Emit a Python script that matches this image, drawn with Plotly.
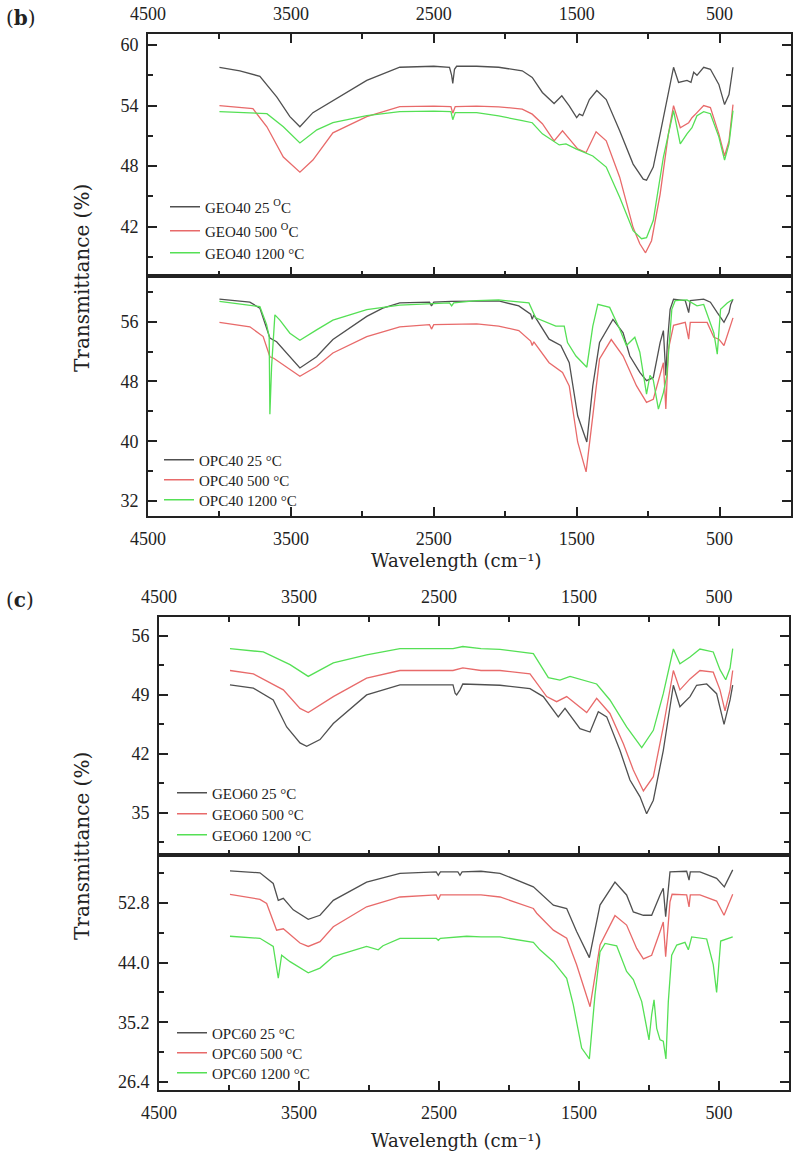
import plotly.graph_objects as go

# ---------------- data: wavenumber (cm-1) and transmittance (%) ----------------
# Panel (b) top: GEO40
geo40_25_wn = [4000, 3857, 3717, 3598, 3507, 3437, 3346, 3206, 2969, 2738, 2500, 2390, 2375, 2367, 2355, 2340, 2200,
               2046, 1881, 1811, 1740, 1658, 1604, 1552, 1500, 1481, 1458, 1411, 1359, 1293, 1199, 1105, 1034, 1011,
               964, 916, 858, 822, 787, 728, 700, 693, 681, 658, 611, 564, 505, 465, 434, 406]
geo40_25_t = [57.8, 57.45, 56.9, 54.85, 52.9, 51.9, 53.3, 54.5, 56.5, 57.8, 57.9, 57.8, 57.0, 56.2, 57.6, 57.9, 57.9,
              57.8, 57.45, 56.8, 55.3, 54.2, 54.97, 53.98, 52.8, 53.15, 53.0, 54.6, 55.5, 54.6, 51.5, 48.2, 46.7, 46.6,
              47.9, 51.2, 55.1, 57.8, 56.3, 56.5, 56.3, 56.8, 57.3, 57.0, 57.8, 57.6, 56.1, 54.1, 55.1, 57.8]
geo40_500_wn = [4000, 3766, 3668, 3553, 3437, 3346, 3206, 2969, 2738, 2500, 2380, 2367, 2350, 2200,
                2046, 1881, 1811, 1740, 1658, 1599, 1540, 1493, 1434, 1406, 1364, 1293, 1199, 1105, 1058, 1018,
                976, 916, 858, 822, 775, 716, 693, 658, 611, 564, 505, 465, 434, 406]
geo40_500_t = [54.0, 53.7, 51.9, 48.9, 47.4, 48.6, 51.3, 52.9, 53.9, 53.95, 53.9, 53.25, 53.9, 53.95,
               53.88, 53.65, 53.15, 52.2, 50.5, 51.5, 50.5, 49.7, 49.35, 50.2, 51.4, 50.5, 46.9, 41.9, 40.3, 39.4,
               40.6, 45.2, 51.2, 54.0, 51.8, 52.3, 52.8, 53.3, 54.0, 53.8, 51.2, 49.0, 50.5, 54.1]
geo40_1200_wn = [4000, 3668, 3553, 3437, 3318, 3206, 2969, 2738, 2500, 2380, 2367, 2350, 2200,
                 2046, 1881, 1811, 1740, 1669, 1622, 1575, 1505, 1387, 1293, 1199, 1105, 1046, 1011, 964, 893,
                 822, 775, 728, 693, 658, 611, 564, 505, 465, 434, 406]
geo40_1200_t = [53.4, 53.2, 51.9, 50.3, 51.6, 52.3, 53.0, 53.4, 53.45, 53.4, 52.6, 53.3, 53.3,
                52.98, 52.5, 52.3, 51.2, 50.5, 50.1, 50.2, 49.7, 49.0, 47.9, 44.9, 41.6, 40.8, 40.9, 42.6, 48.9,
                53.5, 50.2, 51.2, 51.8, 53.0, 53.4, 53.2, 50.9, 48.6, 50.2, 53.5]

# Panel (b) bottom: OPC40
opc40_25_wn = [4000, 3787, 3717, 3670, 3647, 3600, 3507, 3437, 3320, 3206, 2969, 2857, 2738, 2530, 2516, 2500,
               2380, 2200, 2046, 1905, 1822, 1811, 1800, 1693, 1611, 1552, 1493, 1429, 1387, 1340, 1246, 1175,
               1128, 1058, 1011, 964, 916, 893, 876, 865, 846, 822, 740, 716, 705, 611, 564, 516, 469, 434, 422, 406]
opc40_25_t = [59.0, 58.6, 57.8, 55.3, 53.8, 53.3, 51.3, 49.8, 51.3, 53.6, 56.7, 57.8, 58.5, 58.6, 58.1, 58.6,
              58.7, 58.75, 58.76, 58.1, 57.0, 56.3, 56.9, 53.65, 52.8, 50.5, 43.4, 39.9, 47.4, 53.2, 56.3, 54.5,
              51.4, 49.2, 48.1, 48.5, 53.2, 54.8, 48.8, 53.2, 57.65, 59.0, 58.8, 57.2, 58.8, 59.0, 58.6, 57.2, 55.9,
              57.2, 58.3, 59.0]
opc40_500_wn = [4000, 3787, 3694, 3647, 3620, 3507, 3437, 3320, 3206, 2969, 2738, 2530, 2516, 2500, 2200,
                2046, 1905, 1822, 1811, 1800, 1693, 1599, 1552, 1493, 1434, 1387, 1340, 1258, 1175, 1081, 1011,
                964, 916, 893, 876, 858, 822, 740, 716, 705, 587, 540, 505, 469, 406]
opc40_500_t = [55.9, 55.3, 54.0, 51.3, 51.1, 49.6, 48.7, 50.0, 51.8, 54.0, 55.3, 55.6, 55.0, 55.6, 55.7,
               55.4, 54.8, 53.4, 52.8, 53.3, 50.5, 49.2, 47.4, 39.9, 35.9, 43.4, 51.0, 53.6, 51.4, 47.4, 45.2,
               45.6, 48.8, 50.5, 44.3, 52.3, 55.5, 55.9, 53.65, 55.9, 55.9, 53.9, 53.65, 52.8, 56.5]
opc40_1200_wn = [4000, 3717, 3670, 3652, 3647, 3635, 3612, 3577, 3507, 3437, 3320, 3206, 2969, 2738, 2390,
                 2375, 2360, 2200, 2046, 1834, 1787, 1646, 1587, 1564, 1505, 1429, 1387, 1352, 1269, 1199,
                 1152, 1093, 1058, 1011, 987, 964, 928, 893, 869, 834, 811, 728, 658, 611, 540, 516, 493, 446, 406]
opc40_1200_t = [58.7, 58.0, 55.6, 54.0, 43.6, 50.0, 56.9, 56.2, 54.45, 53.5, 54.9, 56.2, 57.6, 58.2, 58.5,
                58.1, 58.5, 58.8, 58.9, 58.5, 56.5, 55.4, 55.4, 53.2, 51.4, 49.9, 55.4, 58.3, 57.9, 55.0,
                52.8, 53.9, 51.9, 46.3, 48.8, 48.2, 44.3, 46.5, 48.8, 57.65, 58.8, 58.9, 58.1, 58.3, 54.5,
                51.65, 57.65, 58.5, 59.0]

# Panel (c) top: GEO60
geo60_25_wn = [3993, 3826, 3684, 3588, 3493, 3445, 3350, 3255, 3017, 2779, 2400, 2385, 2374, 2350, 2330, 2200,
               2064, 1850, 1755, 1648, 1600, 1493, 1421, 1362, 1302, 1207, 1136, 1064, 1017, 969, 898, 826, 779,
               707, 660, 588, 517, 464, 421, 402]
geo60_25_t = [50.19, 49.8, 48.4, 45.2, 43.3, 42.9, 43.7, 45.6, 49.0, 50.2, 50.2, 49.2, 49.0, 49.6, 50.3, 50.2,
              50.15, 49.75, 48.8, 46.4, 47.4, 45.0, 44.6, 47.0, 46.4, 42.4, 38.9, 36.9, 34.9, 36.5, 42.4, 50.15,
              47.6, 48.8, 50.15, 50.3, 49.15, 45.5, 48.4, 50.15]
geo60_500_wn = [3993, 3826, 3612, 3493, 3434, 3255, 3017, 2779, 2400, 2330, 2200,
                2064, 1850, 1731, 1660, 1588, 1445, 1374, 1279, 1183, 1112, 1040, 969, 898, 826, 779, 707, 636,
                541, 493, 457, 421, 402]
geo60_500_t = [51.9, 51.5, 49.6, 47.4, 46.9, 48.8, 51.0, 51.9, 51.9, 52.2, 51.9,
               51.9, 51.5, 48.8, 48.2, 48.8, 46.9, 48.6, 46.8, 43.2, 40.1, 37.6, 39.3, 45.2, 51.9, 49.6, 50.9,
               51.9, 51.7, 49.6, 47.1, 49.6, 51.9]
geo60_1200_wn = [3993, 3755, 3564, 3434, 3255, 3017, 2779, 2400, 2330, 2200,
                 2064, 1826, 1719, 1636, 1564, 1374, 1279, 1160, 1052, 969, 898, 826, 779, 707, 636, 541, 493,
                 452, 421, 402]
geo60_1200_t = [54.5, 54.1, 52.6, 51.2, 52.8, 53.75, 54.5, 54.5, 54.75, 54.5,
                54.4, 53.9, 51.05, 50.75, 51.2, 50.3, 48.4, 45.2, 42.75, 44.8, 49.15, 54.45, 52.7, 53.5, 54.45,
                54.1, 52.0, 50.8, 52.2, 54.5]

# Panel (c) bottom: OPC60
opc60_25_wn = [3993, 3779, 3684, 3648, 3612, 3541, 3434, 3350, 3255, 3017, 2779, 2520, 2505, 2490, 2365, 2350,
               2335, 2200, 2064, 1826, 1683, 1588, 1517, 1426, 1350, 1243, 1160, 1112, 1040, 981, 921, 898, 881,
               850, 731, 714, 705, 636, 517, 462, 402]
opc60_25_t = [57.56, 57.27, 55.7, 53.2, 53.5, 51.8, 50.4, 51.0, 53.2, 55.9, 57.2, 57.4, 56.9, 57.4, 57.4, 56.9,
              57.4, 57.5, 57.2, 55.2, 52.5, 52.0, 48.6, 44.75, 52.5, 55.9, 54.0, 51.5, 51.0, 51.0, 54.0, 55.0,
              50.8, 57.4, 57.5, 56.2, 57.4, 57.4, 56.45, 55.2, 57.7]
opc60_500_wn = [3993, 3779, 3731, 3660, 3612, 3493, 3434, 3350, 3255, 3017, 2779, 2520, 2505, 2490, 2200,
                2064, 1826, 1802, 1683, 1588, 1517, 1421, 1350, 1243, 1160, 1088, 1040, 981, 921, 898, 881, 850,
                835, 731, 714, 705, 636, 517, 464, 402]
opc60_500_t = [54.1, 53.35, 52.75, 48.8, 49.0, 46.9, 46.4, 47.1, 49.3, 52.25, 53.7, 54.0, 53.3, 54.0, 54.0,
               53.7, 52.0, 51.3, 48.8, 47.6, 43.7, 37.5, 46.6, 50.95, 49.55, 46.1, 44.55, 45.1, 48.6, 50.0, 44.9,
               53.0, 54.1, 54.0, 52.25, 54.0, 54.0, 53.1, 51.0, 54.1]
opc60_1200_wn = [3993, 3779, 3684, 3648, 3624, 3564, 3434, 3350, 3255, 3017, 2934, 2900, 2779, 2520, 2505,
                 2490, 2302, 2200, 2064, 1826, 1779, 1683, 1588, 1541, 1481, 1426, 1386, 1350, 1314, 1231, 1160,
                 1112, 1052, 1000, 981, 964, 945, 921, 898, 879, 862, 838, 802, 743, 719, 695, 588, 541, 517, 488,
                 402]
opc60_1200_t = [47.9, 47.6, 46.4, 41.7, 45.1, 44.15, 42.5, 43.2, 44.9, 46.4, 45.9, 46.5, 47.6, 47.6, 47.3,
                47.6, 47.9, 47.8, 47.8, 47.0, 45.9, 44.15, 41.7, 37.8, 31.4, 29.8, 39.2, 45.6, 46.85, 46.5, 42.7,
                41.5, 38.25, 32.6, 36.3, 38.5, 34.3, 32.6, 32.4, 29.8, 38.25, 45.1, 46.6, 47.0, 45.9, 47.8, 47.5,
                43.7, 39.6, 47.2, 47.8]

x_major = [4500, 3500, 2500, 1500, 500]
x_minor = [4000, 3000, 2000, 1000]

# ---------------- styling ----------------
GRAY, RED, GREEN = "#505050", "#e86a6a", "#55e055"
TICKFONT = dict(family="Liberation Serif", size=18, color="#222")
LEGFONT = dict(family="Liberation Serif", size=15, color="#222")
XTITLEFONT = dict(family="DejaVu Serif", size=18, color="#222")
YTITLEFONT = dict(family="DejaVu Serif", size=20, color="#222")
PANELFONT = dict(family="DejaVu Serif", size=20, color="#222")

W, H = 797, 1157
def px_x(p): return p / W
def px_y(p): return 1 - p / H

fig = go.Figure()

# (x axis, y axis, series list, legend row centres (px), legend line start (px))
panels = [
    ("x", "y", [(geo40_25_wn, geo40_25_t, "GEO40 25 <sup>O</sup>C", GRAY),
                (geo40_500_wn, geo40_500_t, "GEO40 500 <sup>O</sup>C", RED),
                (geo40_1200_wn, geo40_1200_t, "GEO40 1200 °C", GREEN)], [207, 231, 253], 170),
    ("x2", "y2", [(opc40_25_wn, opc40_25_t, "OPC40 25 °C", GRAY),
                  (opc40_500_wn, opc40_500_t, "OPC40 500 °C", RED),
                  (opc40_1200_wn, opc40_1200_t, "OPC40 1200 °C", GREEN)], [460, 480, 500], 164),
    ("x3", "y3", [(geo60_25_wn, geo60_25_t, "GEO60 25 °C", GRAY),
                  (geo60_500_wn, geo60_500_t, "GEO60 500 °C", RED),
                  (geo60_1200_wn, geo60_1200_t, "GEO60 1200 °C", GREEN)], [793, 814, 835], 177),
    ("x4", "y4", [(opc60_25_wn, opc60_25_t, "OPC60 25 °C", GRAY),
                  (opc60_500_wn, opc60_500_t, "OPC60 500 °C", RED),
                  (opc60_1200_wn, opc60_1200_t, "OPC60 1200 °C", GREEN)], [1033, 1053, 1073], 177),
]

legends = {}
k = 0
for xa, ya, series, rows, lx in panels:
    for (wn, t, name, col), ry in zip(series, rows):
        k += 1
        lid = "legend" if k == 1 else f"legend{k}"
        fig.add_trace(go.Scatter(x=wn, y=t, mode="lines", name=name, xaxis=xa, yaxis=ya, legend=lid,
                                 line=dict(color=col, width=1.3)))
        legends[lid] = dict(x=px_x(lx - 5), y=px_y(ry), xanchor="left", yanchor="middle",
                            bgcolor="rgba(0,0,0,0)", borderwidth=0, font=LEGFONT)

def xaxis(dom, anchor, side, mirror):
    return dict(domain=dom, anchor=anchor, range=[4500, 0], side=side, showline=True, linecolor="#222",
                linewidth=2, mirror=mirror, ticks="inside", ticklen=9, tickwidth=1.5, tickcolor="#222",
                tickvals=x_major, showticklabels=True, tickfont=TICKFONT, ticklabelstandoff=5,
                minor=dict(tickvals=x_minor, ticks="inside", ticklen=5, tickwidth=1.5, tickcolor="#222"),
                showgrid=False, zeroline=False, automargin=False)

def yaxis(dom, anchor, rng, major, minor, fmt=None):
    d = dict(domain=dom, anchor=anchor, range=rng, showline=True, linecolor="#222", linewidth=2,
             mirror="ticks", ticks="inside", ticklen=9, tickwidth=1.5, tickcolor="#222", tickvals=major,
             tickfont=TICKFONT, ticklabelstandoff=4,
             minor=dict(tickvals=minor, ticks="inside", ticklen=5, tickwidth=1.5, tickcolor="#222"),
             showgrid=False, zeroline=False, automargin=False)
    if fmt:
        d["tickformat"] = fmt
    return d

bx = [px_x(148), px_x(791)]
cx = [px_x(159), px_x(789)]

fig.update_layout(
    width=W, height=H, margin=dict(l=0, r=0, t=0, b=0, autoexpand=False),
    paper_bgcolor="white", plot_bgcolor="white",
    xaxis=xaxis(bx, "y", "top", "ticks"),
    yaxis=yaxis([px_y(276), px_y(34)], "x", [37.1, 61.1], [42, 48, 54, 60], [39, 45, 51, 57]),
    xaxis2=xaxis(bx, "y2", "bottom", True),
    yaxis2=yaxis([px_y(516), px_y(276)], "x2", [30, 62.1], [32, 40, 48, 56], [36, 44, 52, 60]),
    xaxis3=xaxis(cx, "y3", "top", "ticks"),
    yaxis3=yaxis([px_y(855), px_y(617)], "x3", [30, 58.25], [35, 42, 49, 56], [31.5, 38.5, 45.5, 52.5]),
    xaxis4=xaxis(cx, "y4", "bottom", True),
    yaxis4=yaxis([px_y(1090), px_y(855)], "x4", [25.2, 59.9], [26.4, 35.2, 44.0, 52.8],
                 [30.8, 39.6, 48.4, 57.2], ".1f"),
    showlegend=True,
    **legends,
)

ann = [
    dict(text="(<b>b</b>)", x=px_x(4), y=px_y(18), xanchor="left", yanchor="middle", font=PANELFONT),
    dict(text="(<b>c</b>)", x=px_x(4), y=px_y(600), xanchor="left", yanchor="middle", font=PANELFONT),
    dict(text="Wavelength (cm⁻¹)", x=px_x(456), y=px_y(560), xanchor="center", yanchor="middle", font=XTITLEFONT),
    dict(text="Wavelength (cm⁻¹)", x=px_x(456), y=px_y(1140), xanchor="center", yanchor="middle", font=XTITLEFONT),
    dict(text="Transmittance (%)", x=px_x(82), y=px_y(278), xanchor="center", yanchor="middle",
         textangle=-90, font=YTITLEFONT),
    dict(text="Transmittance (%)", x=px_x(82), y=px_y(846), xanchor="center", yanchor="middle",
         textangle=-90, font=YTITLEFONT),
]
for a in ann:
    a.update(xref="paper", yref="paper", showarrow=False)
fig.update_layout(annotations=ann)

fig.write_html("out.html", config={"displayModeBar": False},
               post_script="document.body.style.margin='0';document.body.style.overflow='hidden';")
